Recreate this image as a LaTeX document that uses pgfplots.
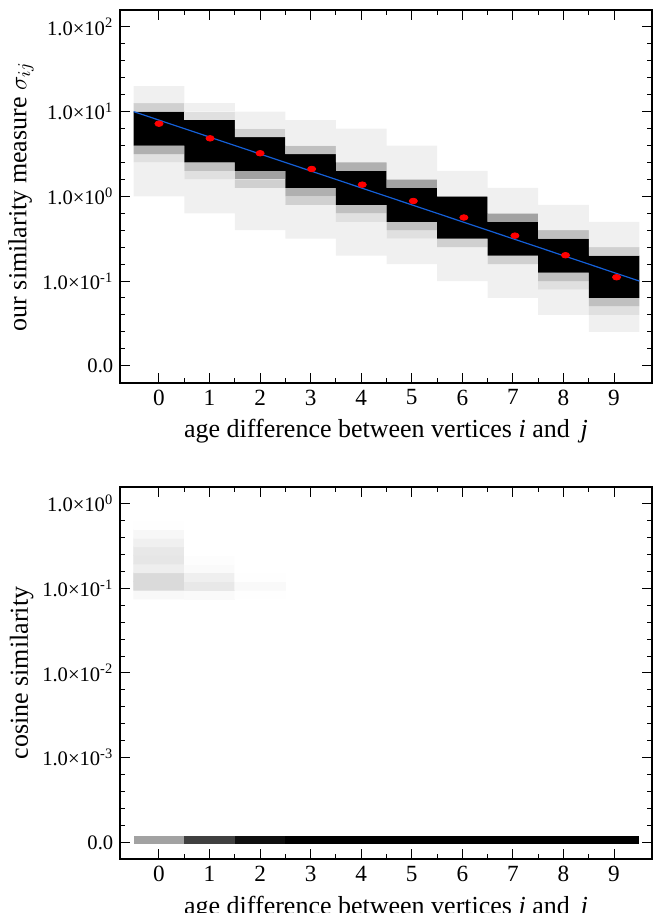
\documentclass[border=0pt]{standalone}
\usepackage{fontspec}
\setmainfont{Liberation Serif}
\usepackage{pgfplots}
\usepackage{pgfplotstable}
\pgfplotsset{compat=1.18}

\definecolor{fitblue}{RGB}{20,95,215}
\definecolor{g240}{RGB}{240,240,240}
\definecolor{g224}{RGB}{224,224,224}
\definecolor{g208}{RGB}{208,208,208}
\definecolor{g192}{RGB}{192,192,192}
\definecolor{g176}{RGB}{176,176,176}
\definecolor{g160}{RGB}{162,162,162}

% top panel: for each age difference, the offset below the first cell and the
% heights (in decades) of the cells, from the bottom up
\pgfplotstableread{
x  base  f0b  e0b  d0b  c0b  b0b  a0b  blk  a0t  b0t  c0t  d0t  e0t  f0t
0   0.0  0.4  0.1  0    0    0.1  0    0.4  0    0    0    0.1  0    0.2
1  -0.2  0.4  0.1  0    0.1  0    0    0.5  0    0    0    0    0.1  0.1
2  -0.4  0.5  0    0.1  0    0    0.1  0.4  0    0    0    0.1  0    0.2
3  -0.5  0.4  0    0.1  0    0.1  0    0.4  0    0    0.1  0    0    0.3
4  -0.7  0.4  0.1  0    0.1  0    0    0.4  0    0.1  0    0    0    0.4
5  -0.8  0.3  0.1  0    0.1  0    0    0.4  0.1  0    0    0    0    0.4
6  -1.0  0.4  0    0.1  0    0    0    0.5  0    0    0    0    0    0.3
7  -1.2  0.4  0    0.1  0    0    0    0.4  0.1  0    0    0    0    0.3
8  -1.4  0.3  0.1  0    0.1  0    0    0.4  0    0    0.1  0    0    0.3
9  -1.6  0.2  0.1  0    0.1  0    0    0.5  0    0    0    0.1  0    0.3
}\sigmacells

% bottom panel: grey level of the cells above 10^-2 (1 = white)
\pgfplotstableread{
x  y      c
0  -1.075 0.965
1  -1.075 0.973
2  -1.075 0.990
0  -0.97  0.847
1  -0.97  0.902
2  -0.97  0.969
0  -0.87  0.847
1  -0.87  0.929
2  -0.87  0.990
0  -0.765 0.925
1  -0.765 0.973
2  -0.765 1
0  -0.66  0.894
1  -0.66  0.984
2  -0.66  1
0  -0.56  0.902
1  -0.56  1
2  -0.56  1
0  -0.46  0.933
1  -0.46  1
2  -0.46  1
0  -0.36  0.961
1  -0.36  1
2  -0.36  1
0  -0.26  0.988
1  -0.26  1
2  -0.26  1
}\cosinecells

\pgfplotsset{
  panel/.style={
    scale only axis, width=265.7pt, height=186.35pt,
    xmin=-0.765, xmax=9.745,
    xtick={0,...,9}, minor x tick num=1,
    minor y tick num=4,
    tick align=inside,
    major tick length=5pt, minor tick length=2.5pt,
    axis line style={line width=1pt},
    tick style={black, line width=0.5pt},
    /pgf/number format/assume math mode=true,
    xticklabel style={font=\fontsize{11.6}{13}\selectfont},
    yticklabel style={font=\fontsize{10.3}{12}\selectfont},
    label style={font=\fontsize{13}{15}\selectfont},
    ylabel shift=-2.5pt,
    xlabel={age difference between vertices \textit{i} and \,\textit{j}},
    axis on top,
  },
}

\begin{document}
\begin{tikzpicture}
\begin{axis}[panel, at={(60.15pt,-191.35pt)}, anchor=south west,
  ymin=-2.2, ymax=2.2, ytick={-2,...,2},
  yticklabels={0.0, 1.0×10\textsuperscript{-1}, 1.0×10\textsuperscript{0},
    1.0×10\textsuperscript{1}, 1.0×10\textsuperscript{2}},
  ylabel={our similarity measure $\sigma_{ij}$},
  ybar stacked, bar width=1,
  stack negative=on previous,
  reverse stacked plots=false,
]
\addplot[draw=none, fill=none] table[x=x, y=base] {\sigmacells};
\addplot[draw=none, fill=g240] table[x=x, y=f0b] {\sigmacells};
\addplot[draw=none, fill=g224] table[x=x, y=e0b] {\sigmacells};
\addplot[draw=none, fill=g208] table[x=x, y=d0b] {\sigmacells};
\addplot[draw=none, fill=g192] table[x=x, y=c0b] {\sigmacells};
\addplot[draw=none, fill=g176] table[x=x, y=b0b] {\sigmacells};
\addplot[draw=none, fill=g160] table[x=x, y=a0b] {\sigmacells};
\addplot[draw=none, fill=black] table[x=x, y=blk] {\sigmacells};
\addplot[draw=none, fill=g160] table[x=x, y=a0t] {\sigmacells};
\addplot[draw=none, fill=g176] table[x=x, y=b0t] {\sigmacells};
\addplot[draw=none, fill=g192] table[x=x, y=c0t] {\sigmacells};
\addplot[draw=none, fill=g208] table[x=x, y=d0t] {\sigmacells};
\addplot[draw=none, fill=g224] table[x=x, y=e0t] {\sigmacells};
\addplot[draw=none, fill=g240] table[x=x, y=f0t] {\sigmacells};
% fitted line and means
\addplot[fitblue, line width=0.6pt, sharp plot, stack plots=false]
  coordinates {(-0.5,1.0) (9.5,-1.0)};
\addplot[only marks, mark=*, red, mark size=1.4pt,
  mark options={xscale=1.45, draw=red, fill=red}, stack plots=false]
  coordinates {(0,0.858) (1.01,0.685) (2,0.509) (3.02,0.323) (4.02,0.138)
    (5.03,-0.055) (6.03,-0.25) (7.04,-0.464) (8.04,-0.695) (9.05,-0.955)};
\end{axis}

\begin{axis}[panel, at={(60.15pt,-429.65pt)}, anchor=south west,
  ymin=-4.2, ymax=0.2, ytick={-4,...,0},
  yticklabels={0.0, 1.0×10\textsuperscript{-3}, 1.0×10\textsuperscript{-2},
    1.0×10\textsuperscript{-1}, 1.0×10\textsuperscript{0}},
  ylabel={cosine similarity},
  colormap={bw}{gray(0cm)=(0); gray(1cm)=(1)},
  point meta min=0, point meta max=1,
]
\addplot[matrix plot*, mesh/cols=3, point meta=explicit]
  table[x=x, y=y, meta=c] {\cosinecells};
% cells at zero
\addplot[draw=none, fill=g160] coordinates {(-0.5,-4.02) (0.5,-4.02) (0.5,-3.92) (-0.5,-3.92)} -- cycle;
\addplot[draw=none, fill=black!75] coordinates {(0.5,-4.02) (1.5,-4.02) (1.5,-3.92) (0.5,-3.92)} -- cycle;
\addplot[draw=none, fill=black!94] coordinates {(1.5,-4.02) (2.5,-4.02) (2.5,-3.92) (1.5,-3.92)} -- cycle;
\addplot[draw=none, fill=black] coordinates {(2.5,-4.02) (9.5,-4.02) (9.5,-3.92) (2.5,-3.92)} -- cycle;
\end{axis}

\pgfresetboundingbox
\useasboundingbox (0,0) rectangle (328.5pt,-456.5pt);
\end{tikzpicture}
\end{document}
